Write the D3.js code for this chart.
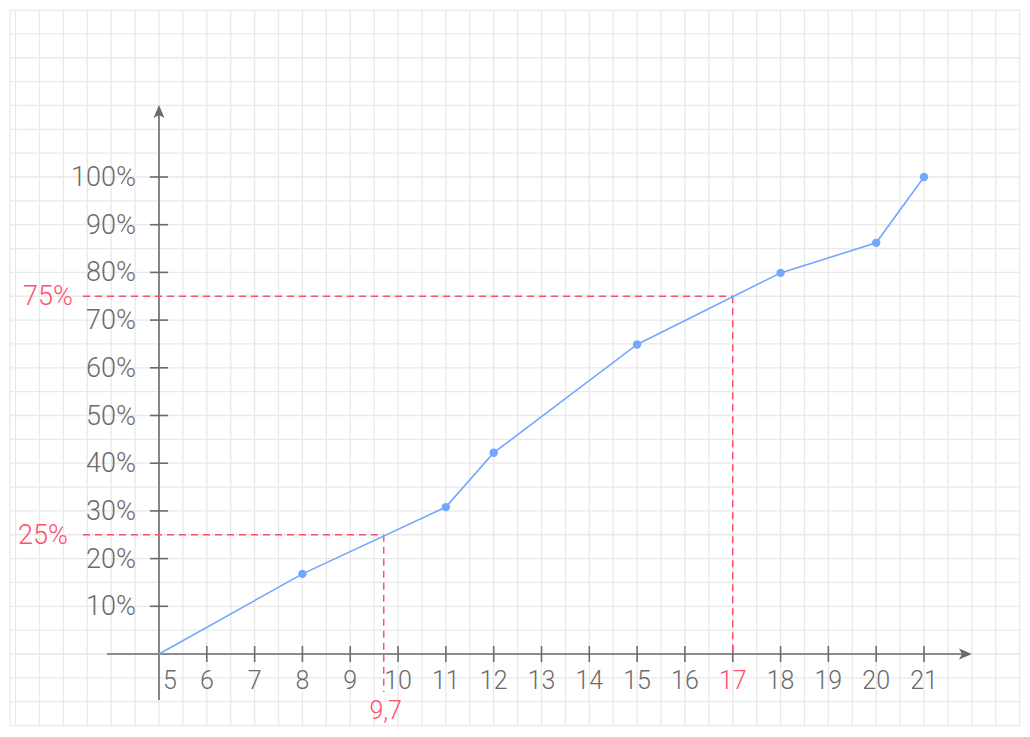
<!DOCTYPE html>
<html>
<head>
<meta charset="utf-8">
<script src="https://cdn.jsdelivr.net/npm/d3@7"></script>
<style>
    html, body { margin: 0; padding: 0; background: #fff; }
    svg text { font-family: Roboto, "Open Sans", sans-serif; font-weight: 300; }
</style>
</head>
<body>
<svg id="chart" width="1030" height="737"></svg>
<script>
'use strict';

// cumulative frequency polygon
var xValues = [5, 8, 11, 12, 15, 18, 20, 21],
    yValues = [0, 16.8, 30.8, 42.2, 64.9, 79.9, 86.2, 100],
    xTicks = [5, 6, 7, 8, 9, 10, 11, 12, 13, 14, 15, 16, 17, 18, 19, 20, 21],
    yTicks = [10, 20, 30, 40, 50, 60, 70, 80, 90, 100],
    quartiles = [25, 75],
    quartileX = [9.7, 17],
    quartileLabels = ['9,7', '17'];

var svg = d3.select('#chart'),
    grey = '#6b6b6b',
    red = '#ff4f6b',
    blue = '#74a6ff',
    gridLeft = 10, gridRight = 1020, gridTop = 10, gridBottom = 725.5,
    x = d3.scaleLinear().domain([5, 21]).range([159, 924]),
    y = d3.scaleLinear().domain([0, 100]).range([654, 177]);

// background grid, half-unit cells
var gridX = d3.range(-6, 37).map(function(k){ return x(5 + k / 2); })
        .filter(function(v){ return v >= gridLeft && v <= gridRight + 1; }),
    gridY = d3.range(-3, 28).map(function(k){ return y(k * 5); })
        .filter(function(v){ return v >= gridTop - 1 && v <= gridBottom + 1; });

gridX.unshift(gridLeft);

var grid = svg.append('g').attr('class', 'grid')
    .attr('stroke', '#e9e9e9').attr('stroke-width', 1.3);

grid.selectAll('line.gx').data(gridX).enter().append('line')
    .attr('class', 'gx')
    .attr('x1', function(d){ return d; }).attr('x2', function(d){ return d; })
    .attr('y1', gridTop).attr('y2', gridBottom);

grid.selectAll('line.gy').data(gridY).enter().append('line')
    .attr('class', 'gy')
    .attr('x1', gridLeft).attr('x2', gridRight)
    .attr('y1', function(d){ return d; }).attr('y2', function(d){ return d; });

// axes
var axes = svg.append('g').attr('stroke', grey).attr('stroke-width', 1.6);

axes.append('line')
    .attr('x1', 107).attr('x2', 962)
    .attr('y1', y(0)).attr('y2', y(0));
axes.append('line')
    .attr('x1', x(5)).attr('x2', x(5))
    .attr('y1', 700).attr('y2', 115);

svg.append('path')
    .attr('fill', grey)
    .attr('d', 'M972,' + y(0) + 'l-13,-5.5l3,5.5l-3,5.5z');
svg.append('path')
    .attr('fill', grey)
    .attr('d', 'M' + x(5) + ',105l-5.5,13l5.5,-3l5.5,3z');

axes.selectAll('line.xt').data(xTicks.slice(1)).enter().append('line')
    .attr('class', 'xt')
    .attr('x1', function(d){ return x(d); }).attr('x2', function(d){ return x(d); })
    .attr('y1', y(0) - 8).attr('y2', y(0) + 8);

axes.selectAll('line.yt').data(yTicks).enter().append('line')
    .attr('class', 'yt')
    .attr('x1', x(5) - 9).attr('x2', x(5) + 9)
    .attr('y1', function(d){ return y(d); }).attr('y2', function(d){ return y(d); });

svg.selectAll('text.xl').data(xTicks).enter().append('text')
    .attr('class', 'xl')
    .attr('x', function(d){ return d === 5 ? x(d) + 11 : x(d); })
    .attr('y', y(0) + 35)
    .attr('text-anchor', 'middle')
    .attr('font-size', 25)
    .attr('fill', function(d){ return quartileX.indexOf(d) >= 0 ? red : grey; })
    .text(function(d){ return d; });

svg.selectAll('text.yl').data(yTicks).enter().append('text')
    .attr('class', 'yl')
    .attr('x', x(5) - 23)
    .attr('y', function(d){ return y(d) + 9; })
    .attr('text-anchor', 'end')
    .attr('font-size', 27)
    .attr('fill', grey)
    .text(function(d){ return d + '%'; });

// quartile guides
var guides = svg.append('g')
    .attr('stroke', red).attr('stroke-width', 1.5)
    .attr('stroke-dasharray', '7,5').attr('fill', 'none');

quartiles.forEach(function(q, i){
    var qx = x(quartileX[i]),
        bottom = quartileX[i] % 1 ? 692 : y(0);

    guides.append('line')
        .attr('x1', 83).attr('x2', qx)
        .attr('y1', y(q)).attr('y2', y(q));
    guides.append('line')
        .attr('x1', qx).attr('x2', qx)
        .attr('y1', y(q)).attr('y2', bottom);

    svg.append('text')
        .attr('x', i === 0 ? 68 : 73)
        .attr('y', y(q) + 9)
        .attr('text-anchor', 'end')
        .attr('font-size', 27)
        .attr('fill', red)
        .text(q + '%');

    if ( quartileX[i] % 1 ){
        svg.append('text')
            .attr('x', qx + 2)
            .attr('y', 719)
            .attr('text-anchor', 'middle')
            .attr('font-size', 25)
            .attr('fill', red)
            .text(quartileLabels[i]);
    }
});

// polygon
var points = xValues.map(function(v, i){ return [v, yValues[i]]; }),
    line = d3.line()
        .x(function(d){ return x(d[0]); })
        .y(function(d){ return y(d[1]); });

svg.append('path')
    .datum(points)
    .attr('fill', 'none')
    .attr('stroke', blue)
    .attr('stroke-width', 1.6)
    .attr('d', line);

svg.selectAll('circle.pt').data(points.slice(1)).enter().append('circle')
    .attr('class', 'pt')
    .attr('cx', function(d){ return x(d[0]); })
    .attr('cy', function(d){ return y(d[1]); })
    .attr('r', 4.2)
    .attr('fill', blue);
</script>
</body>
</html>
